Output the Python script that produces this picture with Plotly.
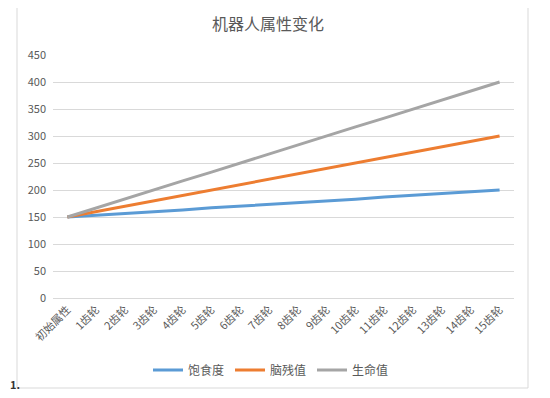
import plotly.graph_objects as go

categories = ["初始属性", "1齿轮", "2齿轮", "3齿轮", "4齿轮", "5齿轮", "6齿轮", "7齿轮",
              "8齿轮", "9齿轮", "10齿轮", "11齿轮", "12齿轮", "13齿轮", "14齿轮", "15齿轮"]
satiety = [150, 153, 157, 160, 163, 167, 170, 173, 177, 180, 183, 187, 190, 193, 197, 200]
brain = [150, 160, 170, 180, 190, 200, 210, 220, 230, 240, 250, 260, 270, 280, 290, 300]
life = [150, 167, 183, 200, 217, 233, 250, 267, 283, 300, 317, 333, 350, 367, 383, 400]
series_names = ["饱食度", "脑残值", "生命值"]
colors = ["#5B9BD5", "#ED7D31", "#A5A5A5"]
y_ticks = [0, 50, 100, 150, 200, 250, 300, 350, 400, 450]

FONT = "Noto Sans CJK SC, Microsoft YaHei, sans-serif"
OFF = 8  # default page body margin
W, H = 550 - OFF, 398 - OFF
# reference pixel positions of the plot area
PL, PR, PT, PB = 53, 514, 55, 298
ML, MR, MT, MB = PL - OFF, 550 - PR, PT - OFF, 398 - PB
PW, PH = W - ML - MR, H - MT - MB


def px_x(p):
    return (p - PL) / PW


def px_y(p):
    return (PB - p) / PH


fig = go.Figure()
for name, vals, c in zip(series_names, [satiety, brain, life], colors):
    fig.add_trace(go.Scatter(x=categories, y=vals, mode="lines", name=name,
                             line=dict(color=c, width=3)))

fig.add_shape(type="rect", xref="paper", yref="paper",
              x0=px_x(17), x1=px_x(528), y0=px_y(388), y1=px_y(6),
              line=dict(color="#D9D9D9", width=1), fillcolor="rgba(0,0,0,0)", layer="below")

fig.add_annotation(text="<b>1.</b>", xref="paper", yref="paper", x=px_x(8), y=px_y(384),
                   showarrow=False, xanchor="left", yanchor="middle",
                   font=dict(family=FONT, size=11, color="#333333"))

fig.update_layout(
    width=W, height=H,
    margin=dict(l=ML, r=MR, t=MT, b=MB),
    paper_bgcolor="white", plot_bgcolor="white",
    font=dict(family=FONT, color="#595959"),
    title=dict(text="机器人属性变化", x=px_x(268), xref="paper", xanchor="center",
               y=1 - (24 - OFF) / H, yanchor="middle",
               font=dict(family=FONT, size=16, color="#595959")),
    xaxis=dict(type="category", range=[-0.5, 15.5], tickangle=-45, showgrid=False,
               showline=True, linecolor="#D9D9D9", ticks="", zeroline=False,
               tickfont=dict(family=FONT, size=11, color="#595959")),
    yaxis=dict(range=[0, 450], tickvals=y_ticks, showgrid=True, gridcolor="#D9D9D9",
               gridwidth=1, zeroline=False, showline=False, ticks="", ticklen=0,
               ticklabelstandoff=6,
               tickfont=dict(family=FONT, size=11, color="#595959")),
    legend=dict(orientation="h", x=px_x(271), xanchor="center", y=px_y(370), yanchor="middle",
                font=dict(family=FONT, size=12, color="#595959"), itemwidth=30,
                entrywidth=37, entrywidthmode="pixels",
                bgcolor="rgba(0,0,0,0)"),
    showlegend=True,
)

fig.write_html("out.html")
